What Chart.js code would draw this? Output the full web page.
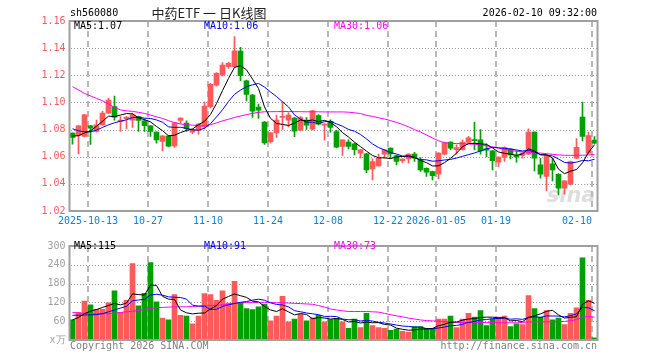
<!DOCTYPE html>
<html>
<head>
<meta charset="utf-8">
<script src="https://cdn.jsdelivr.net/npm/chart.js@4.4.1/dist/chart.umd.min.js"></script>
<style>
  body { margin: 0; background: #fff; }
  #wrap { position: relative; width: 660px; height: 360px; }
  #kline { position: absolute; left: 0; top: 0; }
  #vol { position: absolute; left: 0; top: 236px; }
</style>
</head>
<body>
<div id="wrap">
  <canvas id="kline" width="660" height="236"></canvas>
  <canvas id="vol" width="660" height="124"></canvas>
</div>
<script>
// trading days shown on the chart
const dates = [
  '2025-09-30','2025-10-09','2025-10-10','2025-10-13','2025-10-14','2025-10-15','2025-10-16','2025-10-17','2025-10-20','2025-10-21',
  '2025-10-22','2025-10-23','2025-10-24','2025-10-27','2025-10-28','2025-10-29','2025-10-30','2025-10-31','2025-11-03','2025-11-04',
  '2025-11-05','2025-11-06','2025-11-07','2025-11-10','2025-11-11','2025-11-12','2025-11-13','2025-11-14','2025-11-17','2025-11-18',
  '2025-11-19','2025-11-20','2025-11-21','2025-11-24','2025-11-25','2025-11-26','2025-11-27','2025-11-28','2025-12-01','2025-12-02',
  '2025-12-03','2025-12-04','2025-12-05','2025-12-08','2025-12-09','2025-12-10','2025-12-11','2025-12-12','2025-12-15','2025-12-16',
  '2025-12-17','2025-12-18','2025-12-19','2025-12-22','2025-12-23','2025-12-24','2025-12-25','2025-12-26','2025-12-29','2025-12-30',
  '2025-12-31','2026-01-05','2026-01-06','2026-01-07','2026-01-08','2026-01-09','2026-01-12','2026-01-13','2026-01-14','2026-01-15',
  '2026-01-16','2026-01-19','2026-01-20','2026-01-21','2026-01-22','2026-01-23','2026-01-26','2026-01-27','2026-01-28','2026-01-29',
  '2026-01-30','2026-02-02','2026-02-03','2026-02-04','2026-02-05','2026-02-06','2026-02-09','2026-02-10'
];

const opens = [
  1.0774,1.0756,1.0749,1.0828,1.0786,1.0835,1.0921,1.0970,1.0860,1.0880,
  1.0870,1.0895,1.0865,1.0828,1.0781,1.0712,1.0752,1.0680,1.0867,1.0847,
  1.0781,1.0796,1.0820,1.0968,1.1128,1.1202,1.1263,1.1263,1.1379,1.1160,
  1.1054,1.0966,1.0855,1.0710,1.0776,1.0889,1.0870,1.0884,1.0796,1.0870,
  1.0803,1.0904,1.0833,1.0860,1.0786,1.0675,1.0707,1.0695,1.0626,1.0621,
  1.0510,1.0533,1.0619,1.0663,1.0609,1.0570,1.0584,1.0619,1.0577,1.0515,
  1.0491,1.0474,1.0619,1.0707,1.0651,1.0651,1.0705,1.0724,1.0724,1.0658,
  1.0643,1.0560,1.0594,1.0656,1.0609,1.0609,1.0619,1.0781,1.0540,1.0454,
  1.0547,1.0471,1.0368,1.0397,1.0589,1.0892,1.0626,1.0722
];
const highs = [
  1.0776,1.0830,1.0912,1.0832,1.0870,1.0934,1.1032,1.1047,1.0895,1.0895,
  1.0921,1.0900,1.0878,1.0830,1.0784,1.0756,1.0755,1.0852,1.0886,1.0865,
  1.0805,1.0845,1.1005,1.1140,1.1220,1.1293,1.1295,1.1485,1.1406,1.1165,
  1.1060,1.0988,1.0858,1.0780,1.0907,1.1005,1.0926,1.0890,1.0895,1.0889,
  1.0942,1.0910,1.0845,1.0872,1.0796,1.0727,1.0724,1.0700,1.0655,1.0625,
  1.0584,1.0619,1.0655,1.0666,1.0612,1.0585,1.0622,1.0633,1.0594,1.0518,
  1.0495,1.0630,1.0708,1.0710,1.0688,1.0724,1.0751,1.0855,1.0800,1.0695,
  1.0646,1.0600,1.0672,1.0660,1.0643,1.0630,1.0806,1.0784,1.0589,1.0612,
  1.0589,1.0475,1.0425,1.0568,1.0734,1.1002,1.0781,1.0749
];
const lows = [
  1.0692,1.0621,1.0745,1.0690,1.0780,1.0832,1.0918,1.0870,1.0786,1.0804,
  1.0816,1.0786,1.0786,1.0749,1.0700,1.0643,1.0673,1.0668,1.0845,1.0786,
  1.0770,1.0766,1.0803,1.0960,1.1120,1.1195,1.1250,1.1260,1.1160,1.1012,
  1.0889,1.0882,1.0690,1.0700,1.0742,1.0801,1.0820,1.0747,1.0790,1.0801,
  1.0798,1.0835,1.0722,1.0781,1.0665,1.0609,1.0658,1.0614,1.0589,1.0483,
  1.0429,1.0530,1.0589,1.0589,1.0540,1.0557,1.0552,1.0565,1.0491,1.0454,
  1.0429,1.0437,1.0614,1.0651,1.0619,1.0648,1.0700,1.0651,1.0619,1.0600,
  1.0503,1.0525,1.0565,1.0584,1.0560,1.0589,1.0615,1.0496,1.0442,1.0348,
  1.0422,1.0319,1.0324,1.0392,1.0585,1.0717,1.0622,1.0695
];
const closes = [
  1.0742,1.0828,1.0909,1.0811,1.0835,1.0921,1.1017,1.0892,1.0870,1.0892,
  1.0909,1.0868,1.0828,1.0786,1.0724,1.0754,1.0678,1.0850,1.0884,1.0806,
  1.0801,1.0840,1.0973,1.1133,1.1214,1.1276,1.1288,1.1381,1.1197,1.1059,
  1.0936,1.0943,1.0702,1.0776,1.0870,1.0897,1.0907,1.0788,1.0889,1.0833,
  1.0938,1.0840,1.0840,1.0816,1.0670,1.0724,1.0675,1.0651,1.0651,1.0503,
  1.0565,1.0589,1.0651,1.0621,1.0565,1.0582,1.0619,1.0589,1.0503,1.0486,
  1.0461,1.0626,1.0705,1.0663,1.0668,1.0707,1.0739,1.0719,1.0643,1.0648,
  1.0570,1.0597,1.0668,1.0614,1.0599,1.0626,1.0781,1.0589,1.0471,1.0609,
  1.0503,1.0368,1.0422,1.0565,1.0670,1.0749,1.0756,1.0700
];

const ma5 = [
  1.0752,1.0755,1.0775,1.0790,1.0825,1.0861,1.0899,1.0895,1.0907,1.0918,
  1.0916,1.0886,1.0873,1.0857,1.0823,1.0792,1.0754,1.0758,1.0778,1.0794,
  1.0804,1.0836,1.0861,1.0911,1.0992,1.1087,1.1177,1.1258,1.1271,1.1240,
  1.1172,1.1103,1.0967,1.0883,1.0845,1.0838,1.0830,1.0848,1.0870,1.0863,
  1.0871,1.0858,1.0868,1.0853,1.0821,1.0778,1.0745,1.0707,1.0674,1.0641,
  1.0609,1.0592,1.0592,1.0586,1.0598,1.0602,1.0608,1.0595,1.0572,1.0556,
  1.0532,1.0533,1.0556,1.0588,1.0625,1.0674,1.0696,1.0699,1.0695,1.0691,
  1.0664,1.0635,1.0625,1.0619,1.0610,1.0621,1.0658,1.0642,1.0613,1.0615,
  1.0591,1.0508,1.0475,1.0493,1.0506,1.0555,1.0632,1.0688
];
const ma10 = [
  1.0806,1.0791,1.0784,1.0784,1.0796,1.0816,1.0835,1.0850,1.0862,1.0872,
  1.0888,1.0892,1.0884,1.0882,1.0871,1.0854,1.0820,1.0816,1.0817,1.0809,
  1.0798,1.0795,1.0810,1.0844,1.0893,1.0946,1.1007,1.1060,1.1091,1.1116,
  1.1130,1.1140,1.1113,1.1077,1.1043,1.1005,1.0967,1.0908,1.0877,1.0854,
  1.0854,1.0844,1.0858,1.0862,1.0842,1.0825,1.0801,1.0788,1.0764,1.0731,
  1.0694,1.0668,1.0650,1.0630,1.0620,1.0605,1.0600,1.0594,1.0579,1.0577,
  1.0567,1.0570,1.0576,1.0580,1.0590,1.0603,1.0615,1.0628,1.0642,1.0658,
  1.0669,1.0666,1.0662,1.0657,1.0650,1.0642,1.0647,1.0634,1.0616,1.0612,
  1.0606,1.0583,1.0558,1.0553,1.0560,1.0573,1.0570,1.0581
];
const ma30 = [
  1.1116,1.1092,1.1066,1.1048,1.1030,1.1012,1.0988,1.0963,1.0945,1.0938,
  1.0934,1.0927,1.0919,1.0907,1.0894,1.0882,1.0866,1.0852,1.0841,1.0836,
  1.0833,1.0828,1.0826,1.0836,1.0849,1.0864,1.0876,1.0889,1.0900,1.0910,
  1.0919,1.0927,1.0931,1.0932,1.0932,1.0933,1.0933,1.0932,1.0932,1.0931,
  1.0931,1.0931,1.0930,1.0930,1.0930,1.0930,1.0928,1.0924,1.0918,1.0905,
  1.0897,1.0887,1.0878,1.0866,1.0853,1.0838,1.0820,1.0800,1.0782,1.0760,
  1.0738,1.0718,1.0703,1.0698,1.0697,1.0696,1.0694,1.0692,1.0688,1.0680,
  1.0673,1.0663,1.0655,1.0647,1.0640,1.0636,1.0634,1.0630,1.0627,1.0622,
  1.0618,1.0613,1.0611,1.0610,1.0610,1.0611,1.0613,1.0616
];

// volume in 万
const volumes = [
  64,88,124,112,98,98,119,157,88,127,
  244,109,149,247,122,70,64,145,79,76,
  52,76,148,145,127,157,118,187,118,100,
  97,106,115,61,76,139,58,67,82,61,
  71,79,58,65,69,58,37,67,40,85,
  46,40,37,31,35,28,25,43,43,37,
  37,67,67,76,40,67,85,73,94,46,
  67,73,76,43,52,49,142,100,73,94,
  64,70,49,85,103,262,127,7
];
const volMa5 = [
  64,72,84,92,97.2,104,110.2,116.8,112,117.8,
  147,145,143.4,175.2,174.2,139.4,130.4,129.6,96,86.8,
  83.2,85.6,86.2,99.4,109.6,130.6,139,146.8,141.4,136,
  124,121.6,107.2,95.8,91,99.4,89.8,80.2,84.4,81.4,
  67.8,72,70.2,66.8,68.4,65.8,57.4,59.2,54.2,57.4,
  55,55.6,49.6,47.8,37.8,34.2,31.2,32.4,34.8,35.2,
  37,45.4,50.2,56.8,57.4,63.4,67,68.2,71.8,73,
  73,70.6,71.2,61,62.2,58.6,72.4,77.2,83.2,91.6,
  94.6,80.2,70,72.4,74.2,113.8,125.2,116.8
];
const volMa10 = [
  79,79,80,80,81,84,90,96,102,107.5,
  125.5,127.6,130.1,143.6,146,143.2,137.7,136.5,135.6,130.5,
  111.3,108,107.9,97.7,98.2,106.9,112.3,116.5,120.4,122.8,
  127.3,130.3,127,118.6,113.5,111.7,105.7,93.7,90.1,86.2,
  83.6,80.9,75.2,75.6,74.9,66.8,64.7,64.7,60.5,62.9,
  60.4,56.5,54.4,51,47.6,44.6,43.4,41,41.3,36.5,
  35.6,38.3,41.3,45.8,46.3,50.2,56.2,59.2,64.3,65.2,
  68.2,68.8,69.7,66.4,67.6,65.8,71.5,74.2,72.1,76.9,
  76.6,76.3,73.6,77.8,82.9,104.2,102.7,93.4
];
const volMa30 = [
  88,86,85,84,84,84,84,85,88,90,
  92,94,97,101,103,104,105,106,106,106,
  107,108,109,110,111,112,114,117,119,120,
  120,120,120,120,119,119,118,117,116,115,
  114,110,105,99,96,93,91,91,91,91,
  90,89,85,81,77,74,70,67,64,62,
  61,60,59,57,56,56,56,56,56,56,
  56,55,55,55,55,56,58,58,58,58,
  58,59,59,62,65,73,75,73
];

const tickDates = ['2025-10-13','2025-10-27','2025-11-10','2025-11-24','2025-12-08','2025-12-22','2026-01-05','2026-01-19','2026-02-10'];
const tickLabels = ['2025-10-13','10-27','11-10','11-24','12-08','12-22','2026-01-05','01-19','02-10'];
const priceTicks = [1.04, 1.06, 1.08, 1.10, 1.12, 1.14];
const volTicks = [60, 120, 180, 240];
const priceLegend = ['MA5:1.07', 'MA10:1.06', 'MA30:1.06'];
const volLegend = ['MA5:115', 'MA10:91', 'MA30:73'];

const RED = '#ff5a5a';
const GREEN = '#00a000';
const MA_COLORS = ['#000000', '#0000ff', '#ff00ff'];
const MONO = '"DejaVu Sans Mono", "Liberation Mono", monospace';
const FONT = '10px ' + MONO;
const CLEAR = 'rgba(0,0,0,0)';

const barColors = dates.map((d, i) => (closes[i] >= opens[i] ? RED : GREEN));

function text(ctx, s, x, y, color, font, align) {
  ctx.save();
  ctx.fillStyle = color;
  ctx.font = font || FONT;
  ctx.textAlign = align || 'left';
  ctx.textBaseline = 'middle';
  ctx.fillText(s, x, y);
  ctx.restore();
}

function maLine(data, color) {
  return { type: 'line', data, borderColor: color, borderWidth: 1, pointRadius: 0, tension: 0, order: 0 };
}

// dotted value grid, grey frame and MA legend
function framePlugin(legend, legendY, gridValues, extra) {
  return {
    id: 'frame',
    beforeDatasetsDraw(chart) {
      const { ctx, chartArea: a, scales: { y } } = chart;
      ctx.save();
      ctx.fillStyle = '#999999';
      gridValues.forEach(v => {
        const py = Math.round(y.getPixelForValue(v));
        for (let px = Math.ceil(a.left) + 1; px < a.right - 1; px += 3) ctx.fillRect(px, py, 1, 1);
      });
      ctx.restore();
      if (extra && extra.under) extra.under(chart);
    },
    afterDatasetsDraw(chart) {
      const { ctx, chartArea: a } = chart;
      ctx.save();
      ctx.strokeStyle = '#a0a0a0';
      ctx.lineWidth = 2;
      ctx.strokeRect(a.left, a.top, a.right - a.left, a.bottom - a.top);
      ctx.restore();
      text(ctx, legend[0], 74, legendY, MA_COLORS[0]);
      text(ctx, legend[1], 204, legendY, MA_COLORS[1]);
      text(ctx, legend[2], 334, legendY, MA_COLORS[2]);
      if (extra && extra.over) extra.over(chart);
    }
  };
}

function baseOptions(padTop, xHeight, yOpts) {
  return {
    responsive: false,
    animation: false,
    layout: { padding: { top: padTop, right: 62.5, bottom: 0, left: 0 } },
    plugins: { legend: { display: false }, tooltip: { enabled: false } },
    scales: {
      x: {
        offset: true,
        grid: {
          display: true,
          drawTicks: false,
          offset: true,
          lineWidth: 2,
          color: c => (tickDates.includes(dates[c.index]) ? '#b8b8b8' : CLEAR)
        },
        border: { display: false, dash: [6, 4] },
        ticks: { display: false, autoSkip: false },
        afterFit: s => { s.height = xHeight; }
      },
      y: Object.assign({
        grid: { display: false, drawTicks: false },
        border: { display: false },
        afterFit: s => { s.width = 69.5; }
      }, yOpts)
    }
  };
}

function createKChart() {
  const extra = {
    under(chart) {
      const a = chart.chartArea;
      text(chart.ctx, 'sina', a.right - 2, a.bottom - 14, 'rgba(190,190,190,0.5)', 'italic bold 21px "DejaVu Sans", sans-serif', 'right');
    },
    over(chart) {
      const { ctx, chartArea: a, scales: { x } } = chart;
      const half = (a.right - a.left) / dates.length / 2;
      tickDates.forEach((d, k) => {
        const px = Math.round(x.getPixelForValue(dates.indexOf(d)) - half);
        const last = k === tickDates.length - 1;
        text(ctx, tickLabels[k], px, 221, '#1480d2', FONT, last ? 'right' : 'center');
      });
      text(ctx, 'sh560080', 70, 13, '#000');
      text(ctx, '中药ETF 一 日K线图', 209, 13, '#222', '13px "Noto Sans CJK SC", sans-serif', 'center');
      text(ctx, '2026-02-10 09:32:00', 597, 13, '#000', FONT, 'right');
    }
  };
  return new Chart(document.getElementById('kline'), {
    type: 'bar',
    data: {
      labels: dates,
      datasets: [
        { data: dates.map((d, i) => [lows[i], highs[i]]), backgroundColor: barColors, barThickness: 1, grouped: false, order: 2 },
        { data: dates.map((d, i) => [opens[i], closes[i]]), backgroundColor: barColors, barThickness: 5, minBarLength: 1, grouped: false, order: 1 },
        maLine(ma5, MA_COLORS[0]),
        maLine(ma10, MA_COLORS[1]),
        maLine(ma30, MA_COLORS[2])
      ]
    },
    options: baseOptions(21, 25, {
      min: 1.02,
      max: 1.16,
      ticks: { stepSize: 0.02, color: RED, font: { family: MONO, size: 10 }, padding: 4, callback: v => v.toFixed(2) }
    }),
    plugins: [framePlugin(priceLegend, 26, priceTicks, extra)]
  });
}

function createVolChart() {
  const extra = {
    over(chart) {
      const ctx = chart.ctx;
      text(ctx, 'Copyright 2026 SINA.COM', 70, 110, '#808080');
      text(ctx, 'http://finance.sina.com.cn', 597, 110, '#808080', FONT, 'right');
    }
  };
  return new Chart(document.getElementById('vol'), {
    type: 'bar',
    data: {
      labels: dates,
      datasets: [
        { data: volumes, backgroundColor: barColors, barThickness: 5, order: 1 },
        maLine(volMa5, MA_COLORS[0]),
        maLine(volMa10, MA_COLORS[1]),
        maLine(volMa30, MA_COLORS[2])
      ]
    },
    options: baseOptions(4, 20, {
      min: 0,
      max: 300,
      ticks: { stepSize: 60, color: '#a0a0a0', font: { family: MONO, size: 10 }, padding: 4, callback: v => (v === 0 ? 'x万' : v) }
    }),
    plugins: [framePlugin(volLegend, 10, volTicks, extra)]
  });
}

createKChart();
createVolChart();
</script>
</body>
</html>
